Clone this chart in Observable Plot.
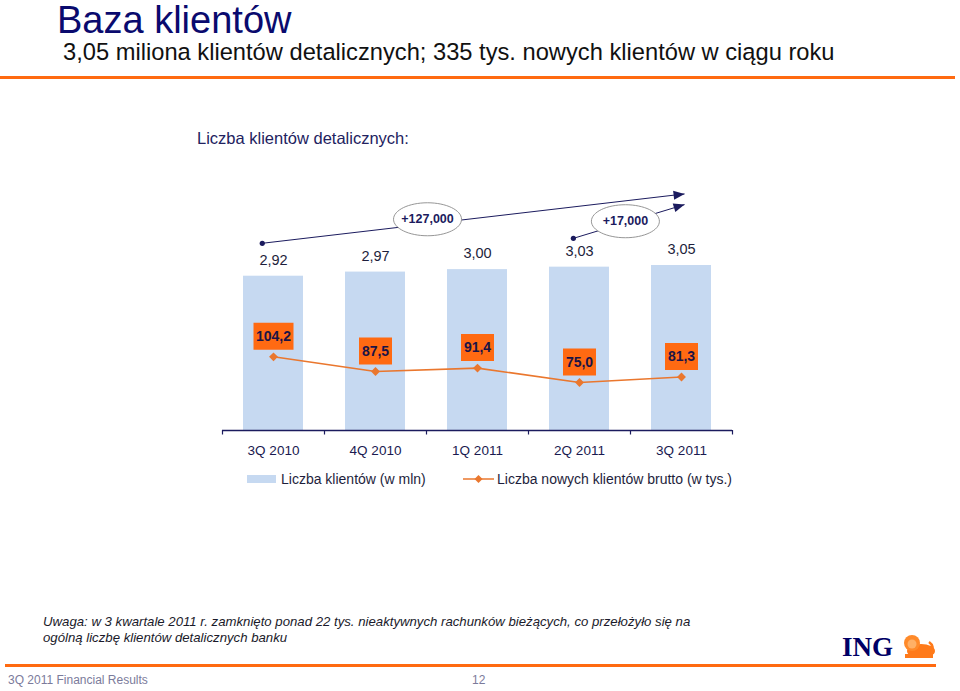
<!DOCTYPE html>
<html lang="pl">
<head>
<meta charset="utf-8">
<script src="https://cdn.jsdelivr.net/npm/d3@7"></script>
<script src="https://cdn.jsdelivr.net/npm/@observablehq/plot@0.6"></script>
<style>
  html, body { margin: 0; padding: 0; background: #fff; }
  body { width: 960px; height: 691px; position: relative; overflow: hidden;
         font-family: "Liberation Sans", Arial, sans-serif; }
  .abs { position: absolute; white-space: nowrap; line-height: 1; }
  #title { left: 57px; top: 1px; font-size: 38px; line-height: 38px; color: #0a0a6e; }
  #subtitle { left: 63px; top: 41px; font-size: 23.7px; color: #111; }
  .orange { position: absolute; background: #ff6a10; }
  #charttitle { left: 197px; top: 130px; font-size: 16.5px; color: #222260; }
  #chart { position: absolute; left: 0; top: 180px; width: 960px; }
  .leg { font-size: 14px; color: #1e1e3c; }
  #note { left: 43px; top: 614px; font-size: 13.2px; line-height: 16px; font-style: italic; color: #1a1a2a; }
  #footer { left: 8px; top: 674px; font-size: 12px; color: #7b7b9b; }
  #page { left: 472px; top: 674px; font-size: 12px; color: #7b7b9b; }
  #ing { left: 842px; top: 634px; font-family: "Liberation Serif", "DejaVu Serif", serif; font-weight: bold; font-size: 27px; color: #000066; }
</style>
</head>
<body>
<div id="title" class="abs">Baza klientów</div>
<div id="subtitle" class="abs">3,05 miliona klientów detalicznych; 335 tys. nowych klientów w ciągu roku</div>
<div class="orange" style="left:0;top:76px;width:955px;height:3px;"></div>
<div id="charttitle" class="abs">Liczba klientów detalicznych:</div>
<div id="chart"></div>

<div class="abs" style="left:247px;top:475px;width:29px;height:8px;background:#c6d9f1;"></div>
<div class="abs leg" style="left:281px;top:472px;">Liczba klientów (w mln)</div>
<svg class="abs" style="left:463px;top:473px;" width="32" height="12">
  <line x1="0" y1="6" x2="31" y2="6" stroke="#ea772e" stroke-width="1.5"/>
  <path d="M15.5,2 L19.5,6 L15.5,10 L11.5,6 Z" fill="#ea772e"/>
</svg>
<div class="abs leg" style="left:497px;top:472px;">Liczba nowych klientów brutto (w tys.)</div>

<div id="note" class="abs">Uwaga: w 3 kwartale 2011 r. zamknięto ponad 22 tys. nieaktywnych rachunków bieżących, co przełożyło się na<br>ogólną liczbę klientów detalicznych banku</div>
<div id="ing" class="abs">ING</div>
<svg class="abs" style="left:899px;top:632px;" width="38" height="28">
  <ellipse cx="22" cy="19" rx="14" ry="7" fill="#ff7a1a"/>
  <circle cx="13" cy="11" r="8" fill="#ff8a2a"/>
  <circle cx="13" cy="12" r="4.5" fill="#ffb066"/>
  <path d="M30,10 q6,4 2,12" stroke="#ff7a1a" stroke-width="2.5" fill="none"/>
  <rect x="6" y="22" width="28" height="4" fill="#ff7a1a"/>
</svg>
<div class="orange" style="left:5px;top:664px;width:931px;height:3px;"></div>
<div id="footer" class="abs">3Q 2011 Financial Results</div>
<div id="page" class="abs">12</div>

<script>
// ---- data ----
const quarters = ["3Q 2010", "4Q 2010", "1Q 2011", "2Q 2011", "3Q 2011"];
const clientsMln = [2.92, 2.97, 3.00, 3.03, 3.05];
const newClientsK = [104.2, 87.5, 91.4, 75.0, 81.3];
const growthLabels = ["+127,000", "+17,000"];
const growthFrom = ["3Q 2010", "2Q 2011"];
const growthTo = ["3Q 2011", "3Q 2011"];

const rows = quarters.map((q, i) => ({ q, i, clients: clientsMln[i], fresh: newClientsK[i] }));
const comma = (f) => (v) => d3.format(f)(v).replace(".", ",");

// ---- layout / scales ----
const W = 960, H = 280, mL = 222, mR = 228, mT = 0, mB = 30;
const yMin = 1.045, yMax = 4.083;                 // primary axis (mln)
const y2 = d3.scaleLinear([20.5, 304.5], [yMin, yMax]); // secondary axis (tys.) mapped onto primary
const kX = (W - mL - mR) / quarters.length;
const kY = (H - mT - mB) / (yMax - yMin);
const idx = (q) => quarters.indexOf(q);

const navy = "#1b1b5e", orange = "#ea772e", boxOrange = "#ff6a12";

// annotation geometry (in index / primary-axis units)
const geom = [
  { o1: -0.11, y1: 3.32, o2: 0.03, y2: 3.92, lx: 1.51, ly: 3.612 },
  { o1: -0.06, y1: 3.38, o2: 0.03, y2: 3.79, lx: 3.45, ly: 3.588 }
];
const ann = growthLabels.map((label, j) => ({
  label,
  x1: idx(growthFrom[j]) + geom[j].o1, y1: geom[j].y1,
  x2: idx(growthTo[j]) + geom[j].o2, y2: geom[j].y2,
  lx: geom[j].lx, ly: geom[j].ly
}));

function headSymbol(theta) {
  const L = 11, Wd = 9, c = Math.cos(theta), s = Math.sin(theta);
  const pt = (px, py) => [px * c - py * s, px * s + py * c];
  return { draw(ctx) {
    const a = pt(0, 0), b = pt(-L, -Wd / 2), d = pt(-L, Wd / 2);
    ctx.moveTo(a[0], a[1]); ctx.lineTo(b[0], b[1]); ctx.lineTo(d[0], d[1]); ctx.closePath();
  } };
}
function rectSymbol(w, h) {
  return { draw(ctx) { ctx.rect(-w / 2, -h / 2, w, h); } };
}
const ellipseSymbol = { draw(ctx) {
  const rx = 34, ry = 16.5, k = 0.5523;
  ctx.moveTo(rx, 0);
  ctx.bezierCurveTo(rx, ry * k, rx * k, ry, 0, ry);
  ctx.bezierCurveTo(-rx * k, ry, -rx, ry * k, -rx, 0);
  ctx.bezierCurveTo(-rx, -ry * k, -rx * k, -ry, 0, -ry);
  ctx.bezierCurveTo(rx * k, -ry, rx, -ry * k, rx, 0);
  ctx.closePath();
} };

const lbl = comma(".1f");
const longRows = rows.filter(d => lbl(d.fresh).length > 4);
const shortRows = rows.filter(d => lbl(d.fresh).length <= 4);

const chart = Plot.plot({
  width: W, height: H,
  marginLeft: mL, marginRight: mR, marginTop: mT, marginBottom: mB,
  x: { type: "linear", domain: [-0.5, quarters.length - 0.5], axis: null },
  y: { domain: [yMin, yMax], axis: null },
  style: { fontFamily: '"Liberation Sans", Arial, sans-serif', background: "transparent", overflow: "visible" },
  marks: [
    // bars
    Plot.rect(rows, { x1: d => d.i - 0.5, x2: d => d.i + 0.5, y1: yMin, y2: "clients",
      insetLeft: 21, insetRight: 21, fill: "#c6d9f1" }),
    Plot.text(rows, { x: "i", y: "clients", text: d => comma(".2f")(d.clients), dy: -16,
      fontSize: 14.5, fill: "#1e1e3c" }),
    // axis
    Plot.ruleY([yMin], { stroke: navy, strokeWidth: 1.5 }),
    Plot.ruleX(d3.range(quarters.length + 1), { x: d => d - 0.5, y1: yMin, y2: yMin - 4.5 / kY,
      stroke: navy, strokeWidth: 1.2 }),
    Plot.text(rows, { x: "i", y: yMin, text: "q", dy: 20.5, fontSize: 13.5, fill: "#1a1a50" }),
    // new clients line
    Plot.line(rows, { x: "i", y: d => y2(d.fresh), stroke: orange, strokeWidth: 1.6 }),
    Plot.dot(rows, { x: "i", y: d => y2(d.fresh), symbol: "diamond2", r: 4, fill: orange }),
    Plot.dot(longRows, { x: "i", y: d => y2(d.fresh), dy: -20.5, symbol: rectSymbol(40, 27), fill: boxOrange }),
    Plot.dot(shortRows, { x: "i", y: d => y2(d.fresh), dy: -20.5, symbol: rectSymbol(33, 27), fill: boxOrange }),
    Plot.text(rows, { x: "i", y: d => y2(d.fresh), dy: -20.5, text: d => lbl(d.fresh),
      fontSize: 14, fontWeight: "bold", fill: "#1a1446" }),
    // growth annotations
    Plot.link(ann, { x1: "x1", y1: "y1", x2: "x2", y2: "y2", stroke: navy, strokeWidth: 1 }),
    Plot.dot(ann, { x: "x1", y: "y1", r: 2.6, fill: navy }),
    ...ann.map(a => Plot.dot([a], { x: "x2", y: "y2", fill: navy,
      symbol: headSymbol(Math.atan2(-(a.y2 - a.y1) * kY, (a.x2 - a.x1) * kX)) })),
    Plot.dot(ann, { x: "lx", y: "ly", symbol: ellipseSymbol, fill: "white", stroke: "#8a8a8a", strokeWidth: 0.9 }),
    Plot.text(ann, { x: "lx", y: "ly", text: "label", fontSize: 12.5, fontWeight: "bold", fill: navy })
  ]
});
document.getElementById("chart").appendChild(chart);
</script>
</body>
</html>
